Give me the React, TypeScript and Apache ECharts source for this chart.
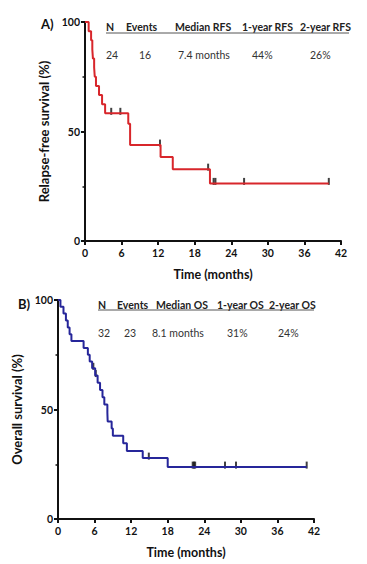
import React, { useEffect, useRef } from "react";
import * as echarts from "echarts";

// Panel A: relapse-free survival (Kaplan-Meier steps)
const rfsTimes = [0, 0.6, 1.0, 1.2, 1.3, 1.5, 1.6, 1.8, 2.3, 2.8, 3.3, 7.1, 7.4, 12.4, 14.4, 20.5, 40.0];
const rfsSurv = [100, 95.8, 91.7, 87.5, 83.3, 79.2, 75.0, 70.8, 66.7, 62.5, 58.3, 53.5, 43.8, 38.3, 32.8, 26.3, 26.3];
const rfsCensor = [4.3, 5.8, 12.3, 20.2, 21.1, 21.4, 26.1, 40.0];

// Panel B: overall survival
const osTimes = [0, 0.4, 0.9, 1.3, 1.6, 1.9, 2.2, 4.2, 4.9, 5.2, 5.6, 6.1, 6.5, 6.9, 7.3, 7.6, 8.1, 8.15, 8.8, 9.0, 10.7, 11.3, 13.9, 18.0, 40.8];
const osSurv = [100, 96.9, 93.8, 90.6, 87.5, 84.4, 81.3, 78.1, 75.0, 71.9, 68.8, 65.5, 62.2, 58.9, 55.6, 52.3, 48.5, 44.5, 41.3, 38.0, 34.6, 31.1, 27.8, 23.7, 23.7];
const osCensor = [5.8, 6.2, 14.9, 22.1, 22.3, 22.5, 27.4, 29.2, 40.8];

// Tables
const headersA = ["N", "Events", "Median RFS", "1-year RFS", "2-year RFS"];
const valuesA = ["24", "16", "7.4 months", "44%", "26%"];
const headersB = ["N", "Events", "Median OS", "1-year OS", "2-year OS"];
const valuesB = ["32", "23", "8.1 months", "31%", "24%"];

const xTicks = { min: 0, max: 42, interval: 6 };
const yTicks = { min: 0, max: 100, interval: 50 };

// layout (not data)
const colHeadA = [106, 126, 175, 242, 300];
const colValA = [106, 139, 178, 252, 310];
const colHeadB = [98, 117, 156, 217, 269];
const colValB = [98, 124, 152, 227, 278];

const FONT = "Lato, 'Open Sans', sans-serif";
const INK = "#111";

function levelAt(times: number[], surv: number[], t: number) {
  let v = surv[0];
  for (let i = 0; i < times.length; i++) if (times[i] <= t) v = surv[i];
  return v;
}

function xAxis(gridIndex: number) {
  return {
    type: "value",
    gridIndex,
    min: xTicks.min,
    max: xTicks.max,
    interval: xTicks.interval,
    name: "Time (months)",
    nameLocation: "middle",
    nameGap: 27,
    nameTextStyle: { fontFamily: FONT, fontWeight: "bold", fontSize: 12.5, color: INK },
    axisLine: { show: true, onZero: false, lineStyle: { color: INK, width: 2 } },
    axisTick: { show: true, length: 4, lineStyle: { color: INK, width: 2 } },
    axisLabel: { margin: 6, fontFamily: FONT, fontWeight: "bold", fontSize: 10.5, color: INK },
    splitLine: { show: false },
  };
}

function yAxis(gridIndex: number, name: string) {
  return {
    type: "value",
    gridIndex,
    min: yTicks.min,
    max: yTicks.max,
    interval: yTicks.interval,
    name,
    nameLocation: "middle",
    nameGap: 29,
    nameTextStyle: { fontFamily: FONT, fontWeight: "bold", fontSize: 13, color: INK },
    axisLine: { show: true, onZero: false, lineStyle: { color: INK, width: 2 } },
    axisTick: { show: true, length: 4, lineStyle: { color: INK, width: 2 } },
    minorTick: { show: true, splitNumber: 2, length: 2.5, lineStyle: { color: INK, width: 1.5 } },
    axisLabel: { margin: 5, fontFamily: FONT, fontWeight: "bold", fontSize: 10.5, color: INK },
    splitLine: { show: false },
    minorSplitLine: { show: false },
  };
}

function tableGraphics(heads: string[], vals: string[], hx: number[], vx: number[], hy: number, vy: number, lineY: number, lineX2: number) {
  const els: any[] = [];
  heads.forEach((h, i) => {
    els.push({
      type: "text",
      x: hx[i],
      y: hy,
      style: { text: h, font: `bold 10.5px ${FONT}`, fill: "#222", verticalAlign: "middle", textVerticalAlign: "middle" },
    });
  });
  vals.forEach((v, i) => {
    els.push({
      type: "text",
      x: vx[i],
      y: vy,
      style: { text: v, font: `10.5px ${FONT}`, fill: "#333", verticalAlign: "middle", textVerticalAlign: "middle" },
    });
  });
  els.push({
    type: "line",
    shape: { x1: hx[0], y1: lineY, x2: lineX2, y2: lineY },
    style: { stroke: "#555", lineWidth: 1 },
  });
  return els;
}

export default function App() {
  const ref = useRef<HTMLDivElement>(null);
  useEffect(() => {
    if (!ref.current) return;
    const chart = echarts.init(ref.current, undefined, { renderer: "svg" });
    const rfsLine = rfsTimes.map((t, i) => [t, rfsSurv[i]]);
    const osLine = osTimes.map((t, i) => [t, osSurv[i]]);
    const rfsC = rfsCensor.map((t) => [t, levelAt(rfsTimes, rfsSurv, t)]);
    const osC = osCensor.map((t) => [t, levelAt(osTimes, osSurv, t)]);
    chart.setOption({
      animation: false,
      backgroundColor: "#fff",
      grid: [
        { left: 85, top: 22, width: 256, height: 219 },
        { left: 58, top: 300, width: 256, height: 219 },
      ],
      xAxis: [xAxis(0), xAxis(1)],
      yAxis: [yAxis(0, "Relapse-free survival (%)"), yAxis(1, "Overall survival (%)")],
      series: [
        {
          type: "line",
          xAxisIndex: 0,
          yAxisIndex: 0,
          step: "end",
          data: rfsLine,
          symbol: "none",
          lineStyle: { color: "#d8262b", width: 2 },
        },
        {
          type: "scatter",
          xAxisIndex: 0,
          yAxisIndex: 0,
          data: rfsC,
          symbol: "rect",
          symbolSize: [2, 7],
          symbolOffset: [0, -2],
          itemStyle: { color: INK },
        },
        {
          type: "line",
          xAxisIndex: 1,
          yAxisIndex: 1,
          step: "end",
          data: osLine,
          symbol: "none",
          lineStyle: { color: "#26269a", width: 2 },
        },
        {
          type: "scatter",
          xAxisIndex: 1,
          yAxisIndex: 1,
          data: osC,
          symbol: "rect",
          symbolSize: [2, 7],
          symbolOffset: [0, -2],
          itemStyle: { color: INK },
        },
      ],
      graphic: [
        {
          type: "text",
          x: 41,
          y: 24,
          style: { text: "A)", font: `bold 13px ${FONT}`, fill: INK, verticalAlign: "middle", textVerticalAlign: "middle" },
        },
        {
          type: "text",
          x: 18,
          y: 304,
          style: { text: "B)", font: `bold 13px ${FONT}`, fill: INK, verticalAlign: "middle", textVerticalAlign: "middle" },
        },
        ...tableGraphics(headersA, valuesA, colHeadA, colValA, 26.5, 55, 33, 349),
        ...tableGraphics(headersB, valuesB, colHeadB, colValB, 305, 333, 310, 314),
      ],
    });
    return () => chart.dispose();
  }, []);
  return (
    <div
      ref={ref}
      style={{ position: "fixed", left: 0, top: 0, width: 367, height: 564, background: "#fff" }}
    />
  );
}
